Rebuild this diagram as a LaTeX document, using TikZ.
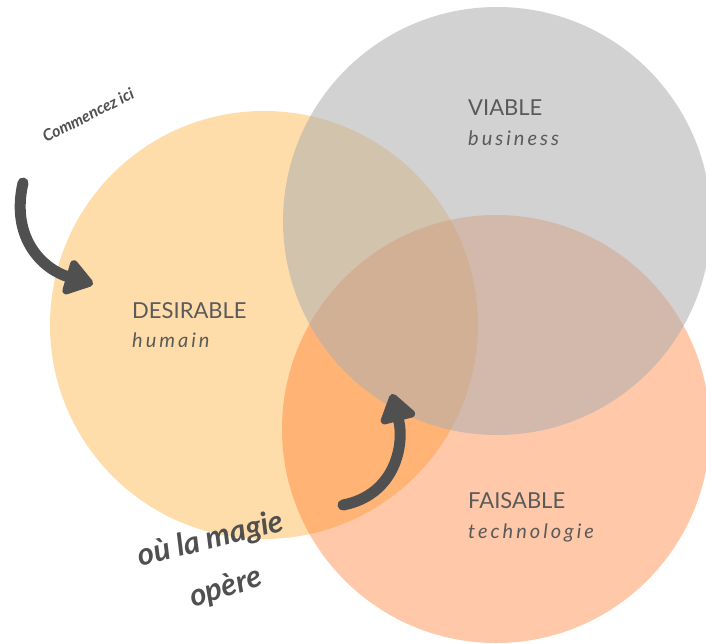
\documentclass[tikz,border=0pt]{standalone}
\usepackage{fontspec}
\setmainfont{Lato}
\usetikzlibrary{arrows.meta}

\definecolor{desirablefill}{RGB}{255,221,170}
\definecolor{faisablefill}{RGB}{255,118,38}
\definecolor{viablefill}{RGB}{175,175,175}
\definecolor{labeltext}{RGB}{90,90,90}
\definecolor{handink}{RGB}{80,80,80}

\begin{document}
\begin{tikzpicture}[x=1pt, y=-1pt] %1pt per unit, y grows downwards
\tikzstyle{every node} = [inner sep=0pt]
\tikzstyle{set} = [circle, minimum size=428pt]
\tikzstyle{title} = [anchor=base west, text=labeltext, font=\fontsize{22}{26}\selectfont]
\tikzstyle{subtitle} = [anchor=base west, text=labeltext, font=\fontsize{20}{24}\selectfont\itshape\addfontfeatures{LetterSpace=15}]
\tikzstyle{hand} = [text=handink]
\tikzstyle{bigarrow} = [draw=handink, line width=11pt, line cap=round, -{Triangle[length=31pt, width=40pt, round]}]

\useasboundingbox (0,0) rectangle (706,643);
\fill[white] (0,0) rectangle (706,643);

% the three sets: orange below, the other two see-through
\node[set, fill=desirablefill] (desirable) at (264,325) {};
\node[set, fill=faisablefill, fill opacity=0.4] (faisable) at (496,429) {};
\node[set, fill=viablefill, fill opacity=0.56] (viable) at (497,221) {};

\node[title] (desirable-t) at (132,318) {DESIRABLE};
\node[subtitle] (desirable-s) at (132,347) {humain};
\node[title] (viable-t) at (468,115) {VIABLE};
\node[subtitle] (viable-s) at (468,145) {business};
\node[title] (faisable-t) at (468,508) {FAISABLE};
\node[subtitle] (faisable-s) at (468,538) {technologie};

% handwritten notes
\node[hand, rotate=27, font=\fontsize{16}{18}\selectfont\bfseries\itshape] (start-t) at (88,115) {Commencez ici};
\node[hand, rotate=14, font=\fontsize{31}{34}\selectfont\bfseries\itshape] (magic-t) at (211,540) {où la magie};
\node[hand, rotate=17, font=\fontsize{31}{34}\selectfont\bfseries\itshape] (magic-u) at (226,588) {opère};

% arrows
\coordinate (start-a) at (23,183);
\coordinate (start-b) at (93,284);
\draw[bigarrow] (start-a) .. controls (10,240) and (45,270) .. (start-b);
\coordinate (magic-a) at (343,505);
\coordinate (magic-b) at (392,394);
\draw[bigarrow] (magic-a) .. controls (395,495) and (405,445) .. (magic-b);
\end{tikzpicture}
\end{document}
